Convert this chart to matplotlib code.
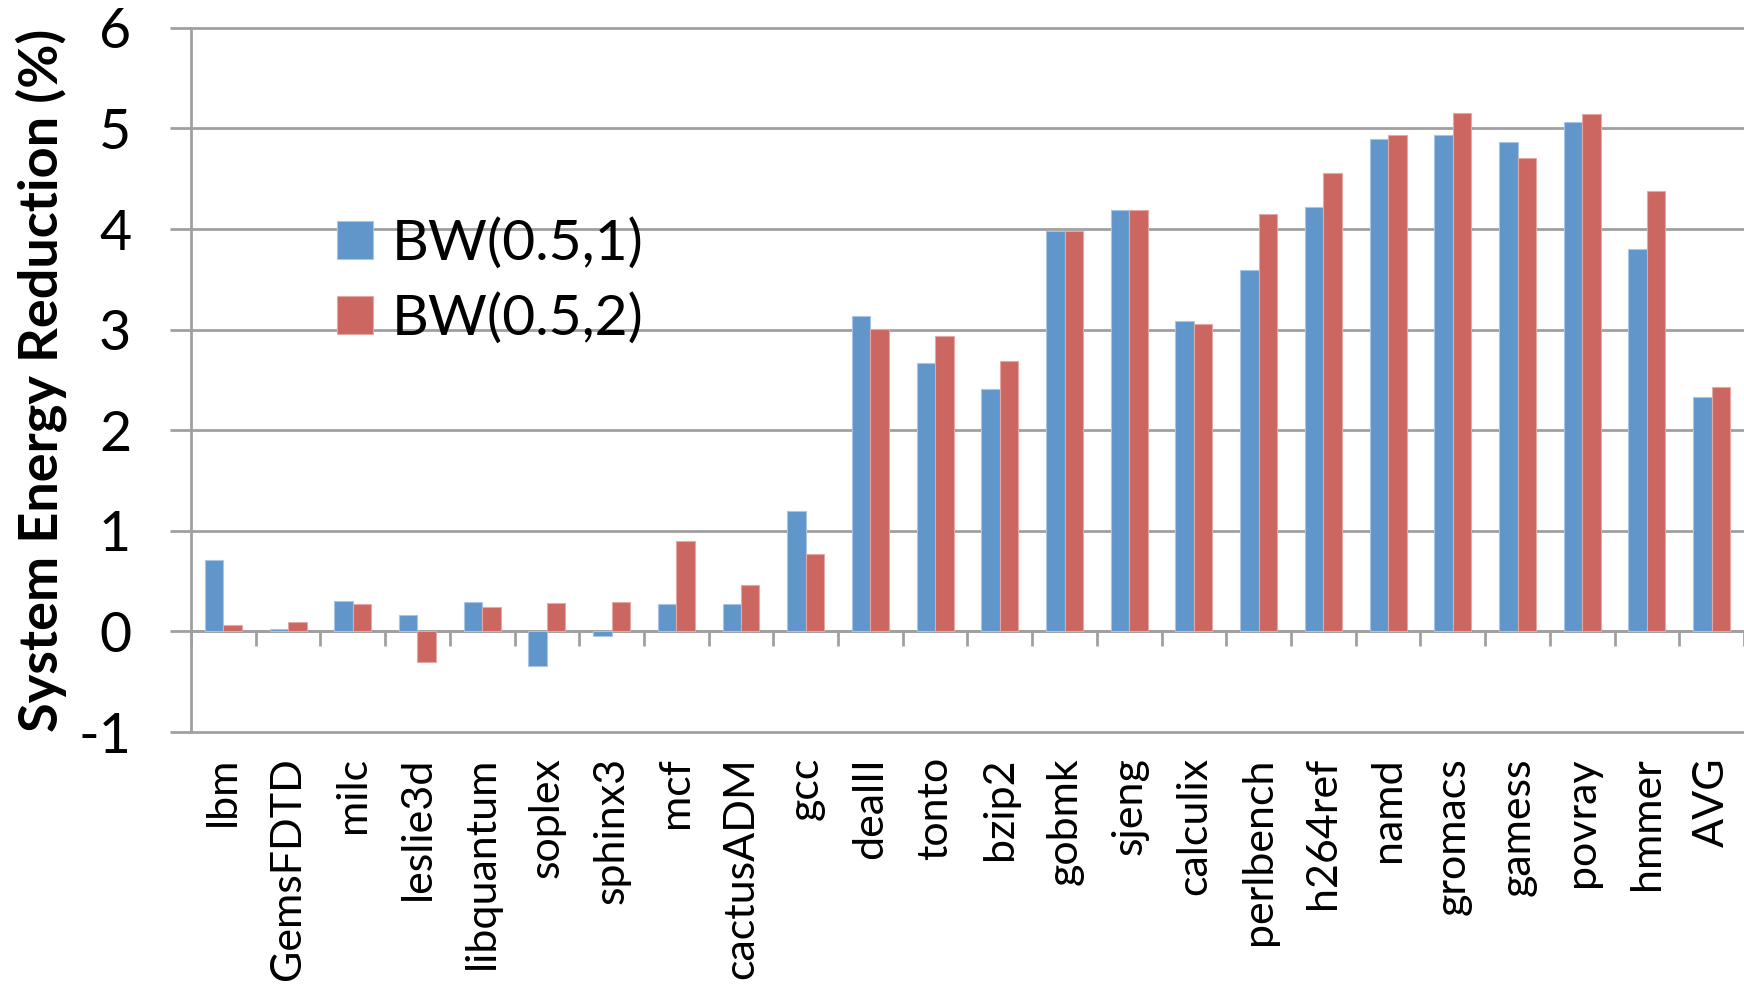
import numpy as np
import matplotlib
matplotlib.use("Agg")
import matplotlib.pyplot as plt

plt.rcParams['font.family'] = ['Lato', 'DejaVu Sans']

benchmarks = ['lbm', 'GemsFDTD', 'milc', 'leslie3d', 'libquantum', 'soplex',
              'sphinx3', 'mcf', 'cactusADM', 'gcc', 'dealII', 'tonto', 'bzip2',
              'gobmk', 'sjeng', 'calculix', 'perlbench', 'h264ref', 'namd',
              'gromacs', 'gamess', 'povray', 'hmmer', 'AVG']
bw_05_1 = [0.71, 0.02, 0.30, 0.16, 0.29, -0.34, -0.05, 0.27, 0.27, 1.20,
           3.14, 2.67, 2.41, 3.98, 4.19, 3.09, 3.59, 4.22, 4.89, 4.93,
           4.86, 5.06, 3.80, 2.33]
bw_05_2 = [0.06, 0.09, 0.27, -0.30, 0.24, 0.28, 0.29, 0.90, 0.46, 0.77,
           3.01, 2.94, 2.69, 3.98, 4.19, 3.06, 4.15, 4.56, 4.93, 5.15,
           4.71, 5.14, 4.38, 2.43]
yticks = [-1, 0, 1, 2, 3, 4, 5, 6]

blue = '#6196CA'
red = '#CC6660'
grey = '#A0A0A0'

fig = plt.figure(figsize=(17.44, 9.86), dpi=100)
ax = fig.add_axes([0.1095, 0.2576, 0.8905, 0.7142])

x = np.arange(len(benchmarks))
w = 1 / 3.5
ax.bar(x - w / 2, bw_05_1, w, color=blue, edgecolor='#A9C4E4', linewidth=0.8,
       label='BW(0.5,1)', zorder=3)
ax.bar(x + w / 2, bw_05_2, w, color=red, edgecolor='#E3A9A6', linewidth=0.8,
       label='BW(0.5,2)', zorder=3)

ax.set_xlim(-0.5, len(benchmarks) - 0.5)
ax.set_ylim(-1, 6)
ax.set_yticks(yticks)
ax.set_yticklabels([str(t) for t in yticks], fontsize=40)
ax.yaxis.grid(True, color=grey, linewidth=2, zorder=0)
for gl in ax.get_ygridlines():
    gl.set_clip_on(False)

for side in ['top', 'right', 'bottom']:
    ax.spines[side].set_visible(False)
ax.spines['left'].set_color(grey)
ax.spines['left'].set_linewidth(2)
ax.tick_params(axis='y', direction='out', length=15, width=2, color=grey, pad=28)

# category axis sits at zero with tick marks between groups
ax.axhline(0, color=grey, linewidth=2, zorder=2)
ax.vlines(np.arange(len(benchmarks) + 1) - 0.5, -0.15, 0, color=grey,
          linewidth=2, zorder=2, clip_on=False)

ax.set_xticks(x)
ax.set_xticklabels(benchmarks, rotation=90, fontsize=31, va='top')
ax.tick_params(axis='x', length=0, pad=18)

ax.set_ylabel('System Energy Reduction (%)', fontsize=39, fontweight='bold',
              labelpad=8)

ax.legend(loc='upper left', bbox_to_anchor=(0.094, 0.73), frameon=False,
          fontsize=41, handlelength=0.64, handleheight=0.64, handletextpad=0.32,
          labelspacing=0.41, borderpad=0, borderaxespad=0)

fig.savefig('out.png', dpi=100)
